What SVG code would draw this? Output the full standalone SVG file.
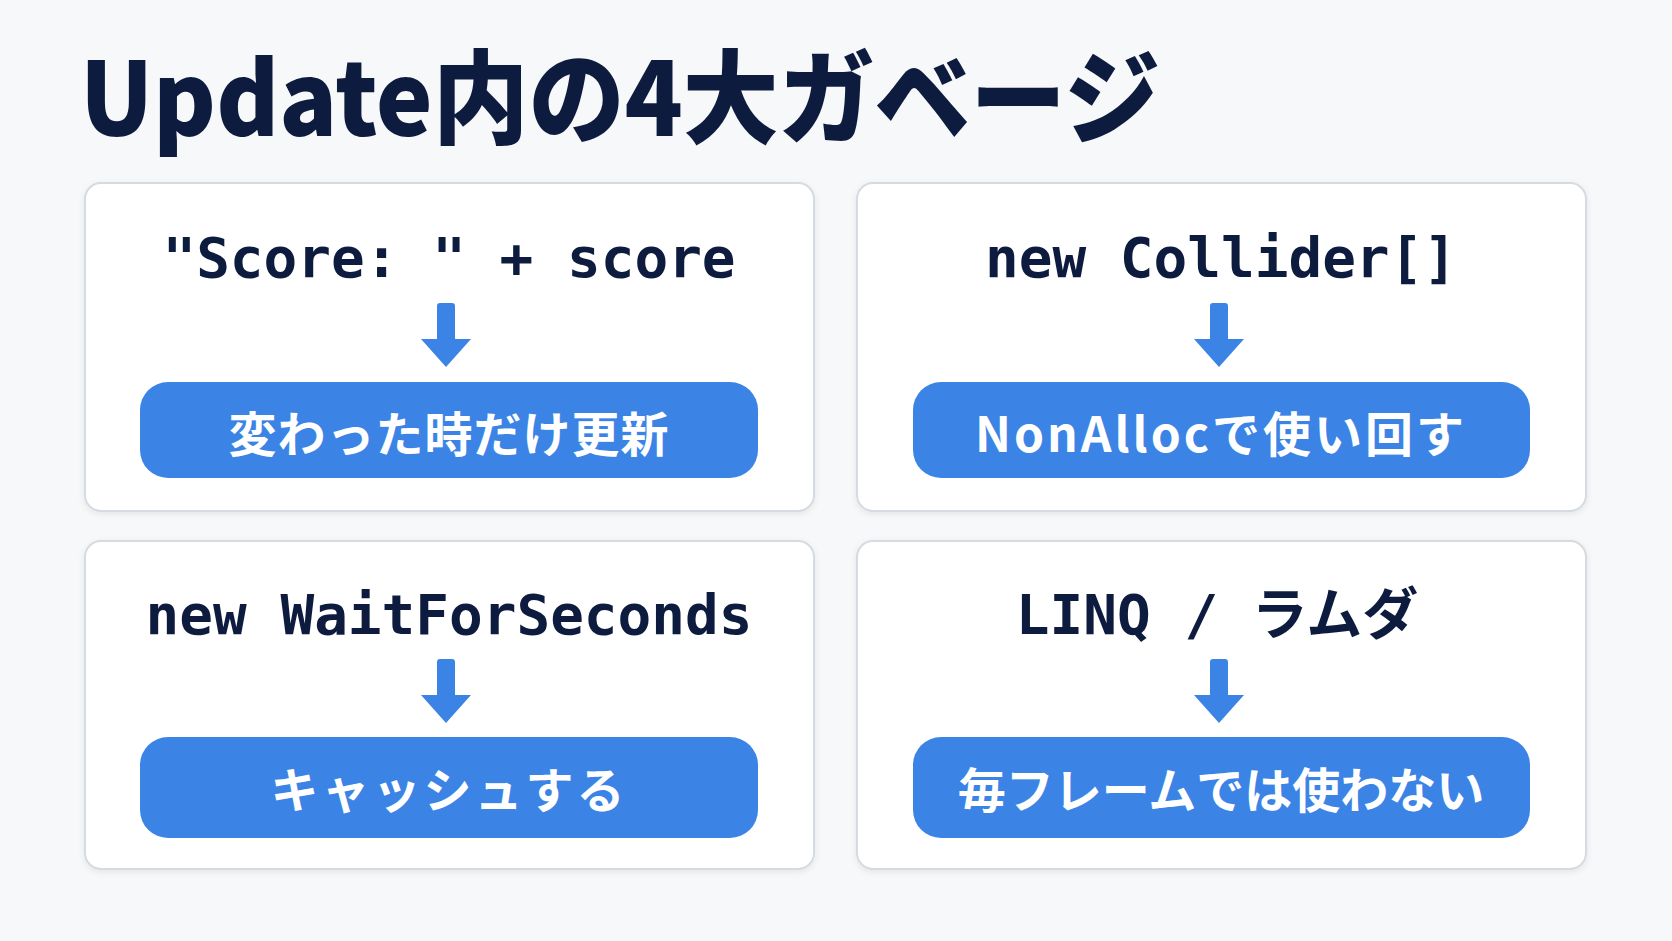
<svg xmlns="http://www.w3.org/2000/svg" width="1672" height="941" viewBox="0 0 1672 941">
<defs>
<style>
.title{font-family:"Noto Sans CJK JP","Noto Sans",sans-serif;font-weight:900;font-size:102px;fill:#0d1b3e}
.card{fill:#ffffff;stroke:#d6dae1;stroke-width:2}
.code{font-family:"DejaVu Sans Mono","Noto Sans CJK JP",monospace;font-weight:bold;font-size:56px;fill:#0d1b3e;text-anchor:middle}
.pill{fill:#3b84e6}
.ptxt{font-family:"Noto Sans CJK JP","Noto Sans",sans-serif;font-weight:bold;font-size:48px;fill:#ffffff;text-anchor:middle;letter-spacing:1px}
.arrow{fill:#3b84e6}
</style>
<filter id="sh" x="-5%" y="-5%" width="110%" height="115%">
<feDropShadow dx="0" dy="2" stdDeviation="3" flood-color="#000000" flood-opacity="0.08"/>
</filter>
<path id="arr" d="M-9,3 q0,-3 3,-3 h12 q3,0 3,3 V36 H25 L0,64 L-25,36 H-9 Z"/>
</defs>
<rect x="0" y="0" width="1672" height="941" fill="#f7f8fa"/>
<text class="title" x="80" y="136" textLength="1080" lengthAdjust="spacingAndGlyphs">Update内の4大ガベージ</text>

<g id="card1">
<rect class="card" x="85" y="183" width="729" height="328" rx="16" filter="url(#sh)"/>
<text class="code" x="449" y="277">"Score: " + score</text>
<rect class="pill" x="140" y="382" width="618" height="96" rx="28"/>
<text class="ptxt" x="449" y="452">変わった時だけ更新</text>
</g>
<g id="card2">
<rect class="card" x="857" y="183" width="729" height="328" rx="16" filter="url(#sh)"/>
<text class="code" x="1221" y="277">new Collider[]</text>
<rect class="pill" x="913" y="382" width="617" height="96" rx="28"/>
<text class="ptxt" x="1221" y="452" style="letter-spacing:3px">NonAllocで使い回す</text>
</g>
<g id="card3">
<rect class="card" x="85" y="541" width="729" height="328" rx="16" filter="url(#sh)"/>
<text class="code" x="449" y="634">new WaitForSeconds</text>
<rect class="pill" x="140" y="737" width="618" height="101" rx="28"/>
<text class="ptxt" x="449" y="808" style="letter-spacing:3px">キャッシュする</text>
</g>
<g id="card4">
<rect class="card" x="857" y="541" width="729" height="328" rx="16" filter="url(#sh)"/>
<text class="code" x="1217" y="634">LINQ / ラムダ</text>
<rect class="pill" x="913" y="737" width="617" height="101" rx="28"/>
<text class="ptxt" x="1221" y="808" style="letter-spacing:0px">毎フレームでは使わない</text>
</g>

<g id="connectors">
<use href="#arr" class="arrow" x="446" y="303"/>
<use href="#arr" class="arrow" x="1219" y="303"/>
<use href="#arr" class="arrow" x="446" y="659"/>
<use href="#arr" class="arrow" x="1219" y="659"/>
</g>
</svg>
